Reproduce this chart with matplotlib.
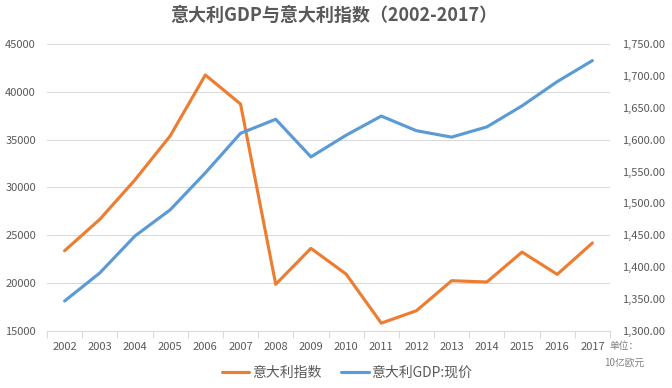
import matplotlib
matplotlib.use("Agg")
import matplotlib.pyplot as plt
from matplotlib.ticker import FuncFormatter, MultipleLocator, FixedLocator

plt.rcParams['font.family'] = ['Noto Sans CJK SC', 'DejaVu Sans']

years = [str(y) for y in range(2002, 2018)]
index_vals = [23390, 26670, 30800, 35390, 41760, 38730, 19880, 23640,
              20950, 15820, 17120, 20260, 20120, 23250, 20920, 24200]
gdp_vals = [1347, 1391, 1449, 1490, 1548, 1610, 1632, 1573,
            1607, 1637, 1614, 1604, 1620, 1653, 1691, 1724]

gray = "#595959"
grid = "#D9D9D9"

fig = plt.figure(figsize=(6.72, 3.88), dpi=100)
ax = fig.add_axes([47 / 672, 1 - 331 / 388, 563 / 672, 287 / 388])
ax2 = ax.twinx()

x = list(range(len(years)))
l1, = ax.plot(x, index_vals, color="#ED7D31", lw=2.25, label="意大利指数",
              solid_capstyle="round")
l2, = ax2.plot(x, gdp_vals, color="#5B9BD5", lw=2.25, label="意大利GDP:现价",
               solid_capstyle="round")

ax.set_xlim(-0.5, len(years) - 0.5)
ax.set_ylim(15000, 45000)
ax.yaxis.set_major_locator(MultipleLocator(5000))
ax2.set_ylim(1300, 1750)
ax2.yaxis.set_major_locator(MultipleLocator(50))
ax2.yaxis.set_major_formatter(FuncFormatter(lambda v, p: f"{v:,.2f}"))

ax.set_xticks(x)
ax.set_xticklabels(years)
ax.xaxis.set_minor_locator(FixedLocator([i - 0.5 for i in range(len(years) + 1)]))
ax.tick_params(axis="x", which="major", length=0, pad=8, labelsize=8, labelcolor=gray)
ax.tick_params(axis="x", which="minor", length=5, color=grid, width=0.75)
ax.tick_params(axis="y", length=0, pad=8, labelsize=8, labelcolor=gray)
ax2.tick_params(axis="y", length=0, pad=8.5, labelsize=8, labelcolor=gray)

ax.grid(axis="y", color=grid, lw=0.75)
ax.set_axisbelow(True)
for a in (ax, ax2):
    for s in ("top", "left", "right"):
        a.spines[s].set_visible(False)
    a.spines["bottom"].set_color(grid)
    a.spines["bottom"].set_linewidth(0.75)
ax2.spines["bottom"].set_visible(False)

fig.text(0.497, 1 - 15 / 388, "意大利GDP与意大利指数（2002-2017）", ha="center", va="center",
         fontsize=13, fontweight="bold", color=gray)

fig.text(624 / 672, 1 - 346 / 388, "单位：", fontsize=7, color="#808080",
         ha="center", va="center")
fig.text(624 / 672, 1 - 363 / 388, "10亿欧元", fontsize=7, color="#808080",
         ha="center", va="center")

fig.legend(handles=[l1, l2], loc="center", bbox_to_anchor=(347 / 672, 1 - 373 / 388),
           ncol=2, frameon=False, fontsize=10, handlelength=2.0, handletextpad=0.2,
           columnspacing=1.4, labelcolor=gray)

fig.savefig("out.png", dpi=100)
